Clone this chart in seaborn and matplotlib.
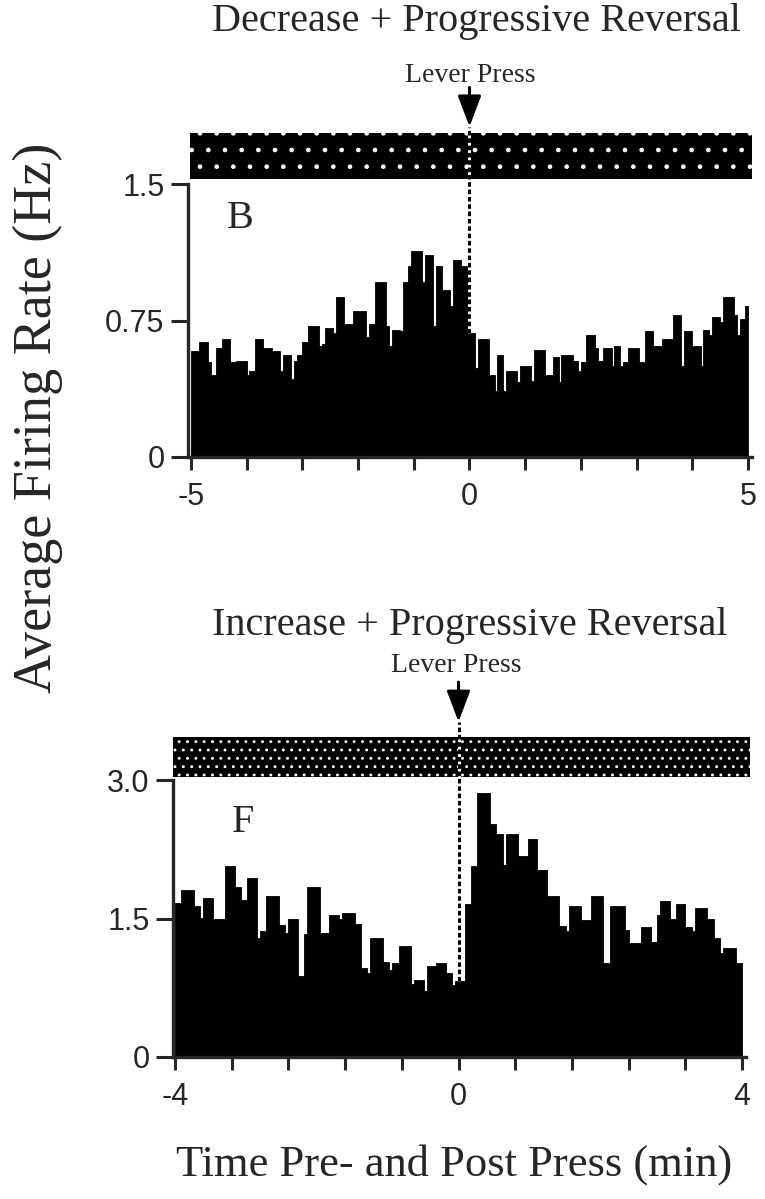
""" Peri-event firing rate histograms around the lever press."""
import numpy as np
import pandas as pd
import seaborn as sns
import matplotlib.pyplot as plt

# Panel B: average firing rate (Hz), 0.05 min bins from -5 to 5 min
rate_b = [
    0.58, 0.58, 0.58, 0.63, 0.63, 0.63, 0.52, 0.45, 0.45, 0.60,
    0.60, 0.65, 0.65, 0.65, 0.52, 0.52, 0.53, 0.53, 0.53, 0.53,
    0.45, 0.47, 0.47, 0.65, 0.65, 0.65, 0.60, 0.60, 0.60, 0.58,
    0.58, 0.58, 0.47, 0.56, 0.56, 0.56, 0.43, 0.53, 0.56, 0.56,
    0.63, 0.63, 0.72, 0.72, 0.72, 0.72, 0.61, 0.62, 0.71, 0.71,
    0.71, 0.68, 0.88, 0.88, 0.88, 0.73, 0.73, 0.73, 0.80, 0.80,
    0.80, 0.80, 0.80, 0.66, 0.73, 0.73, 0.96, 0.96, 0.96, 0.96,
    0.72, 0.61, 0.70, 0.70, 0.70, 0.69, 0.96, 0.96, 1.05, 1.13,
    1.13, 1.13, 1.13, 0.96, 1.11, 1.11, 1.11, 0.72, 1.05, 1.05,
    0.92, 0.92, 0.92, 0.83, 1.08, 1.08, 1.08, 1.05, 1.05, 1.02,
    0.68, 0.68, 0.49, 0.65, 0.65, 0.65, 0.65, 0.45, 0.45, 0.36,
    0.56, 0.56, 0.36, 0.47, 0.47, 0.47, 0.47, 0.41, 0.50, 0.50,
    0.50, 0.50, 0.42, 0.59, 0.59, 0.59, 0.59, 0.45, 0.45, 0.45,
    0.55, 0.55, 0.41, 0.56, 0.56, 0.56, 0.56, 0.53, 0.53, 0.47,
    0.52, 0.52, 0.67, 0.67, 0.67, 0.60, 0.53, 0.53, 0.60, 0.60,
    0.60, 0.50, 0.61, 0.61, 0.50, 0.52, 0.52, 0.60, 0.60, 0.60,
    0.60, 0.52, 0.52, 0.69, 0.69, 0.69, 0.61, 0.61, 0.61, 0.65,
    0.65, 0.65, 0.65, 0.78, 0.78, 0.78, 0.50, 0.69, 0.69, 0.69,
    0.61, 0.61, 0.61, 0.50, 0.70, 0.70, 0.67, 0.77, 0.77, 0.77,
    0.74, 0.88, 0.88, 0.88, 0.88, 0.78, 0.67, 0.76, 0.76, 0.83,
]

# Panel F: average firing rate (Hz), 180 bins from -4 to 4 min
rate_f = [
    1.67, 1.67, 1.81, 1.81, 1.81, 1.81, 1.64, 1.64, 1.51, 1.72,
    1.72, 1.72, 1.49, 1.49, 1.49, 1.49, 2.07, 2.07, 2.07, 1.84,
    1.84, 1.70, 1.70, 1.94, 1.94, 1.94, 1.29, 1.36, 1.36, 1.74,
    1.74, 1.74, 1.74, 1.43, 1.43, 1.34, 1.49, 1.49, 1.49, 0.88,
    0.88, 1.33, 1.84, 1.84, 1.84, 1.84, 1.34, 1.34, 1.34, 1.54,
    1.54, 1.54, 1.49, 1.56, 1.56, 1.56, 1.56, 1.44, 1.44, 0.96,
    0.96, 0.91, 1.29, 1.29, 1.29, 1.29, 1.03, 1.03, 0.94, 1.02,
    1.02, 1.20, 1.20, 1.20, 1.20, 0.79, 0.83, 0.83, 0.83, 0.72,
    0.99, 0.99, 0.99, 1.02, 1.02, 1.02, 0.91, 0.91, 0.78, 0.82,
    0.82, 0.82, 1.66, 1.66, 2.07, 2.07, 2.86, 2.86, 2.86, 2.86,
    2.52, 2.52, 2.42, 2.42, 2.08, 2.42, 2.42, 2.42, 2.42, 2.18,
    2.18, 2.18, 2.36, 2.36, 2.36, 2.03, 2.03, 2.03, 1.74, 1.74,
    1.74, 1.74, 1.42, 1.42, 1.36, 1.64, 1.64, 1.64, 1.64, 1.48,
    1.48, 1.48, 1.74, 1.74, 1.74, 1.74, 1.02, 1.02, 1.64, 1.64,
    1.64, 1.64, 1.64, 1.38, 1.23, 1.23, 1.23, 1.23, 1.41, 1.41,
    1.41, 1.25, 1.25, 1.54, 1.69, 1.69, 1.69, 1.50, 1.50, 1.66,
    1.66, 1.66, 1.41, 1.41, 1.36, 1.61, 1.61, 1.61, 1.61, 1.50,
    1.50, 1.29, 1.29, 1.13, 1.18, 1.18, 1.18, 1.18, 1.02, 1.02,
]

range_b = (-5, 5)
range_f = (-4, 4)
yticks_b = [0, 0.75, 1.5]
ylabels_b = ['0', '0.75', '1.5']
yticks_f = [0, 1.5, 3.0]
ylabels_f = ['0', '1.5', '3.0']
xlabels_b = ['-5', '0', '5']
xlabels_f = ['-4', '0', '4']
titles = ['Decrease + Progressive Reversal', 'Increase + Progressive Reversal']
letters = ['B', 'F']

W, H = 765, 1199
SERIF = ['Liberation Serif', 'DejaVu Serif']
SANS = ['Liberation Sans', 'DejaVu Sans']


def box(left, top, right, bottom):
    """ Pixel box -> figure fraction rect."""
    return [left / W, 1 - bottom / H, (right - left) / W, (bottom - top) / H]


def fpos(x, y):
    return x / W, 1 - y / H


def draw_panel(fig, rate, xr, xlim, hist_box, raster_box, raster_hatch,
               yticks, ylabels, xlabels, letter, letter_xy, arrow_y):
    """ Draw raster band + histogram for one cell."""
    ras = fig.add_axes(box(*raster_box))
    ras.fill_between([0, 1], 0, 1, facecolor='black', edgecolor='white',
                     hatch=raster_hatch, linewidth=0)
    ras.set_xlim(0, 1)
    ras.set_ylim(0, 1)
    ras.axis('off')

    ax = fig.add_axes(box(*hist_box))
    ax.patch.set_alpha(0)
    nbins = len(rate)
    width = (xr[1] - xr[0]) / nbins
    df = pd.DataFrame({'t': xr[0] + width * (np.arange(nbins) + 0.5),
                       'rate': rate})
    sns.histplot(data=df, x='t', weights='rate', bins=nbins, binrange=xr,
                 element='step', fill=True, color='black', alpha=1,
                 linewidth=0.6, edgecolor='black', ax=ax)
    ax.set_xlim(*xlim)
    ax.set_ylim(yticks[0], yticks[-1])
    ax.set_ylabel('')
    ax.set_xlabel('')
    ax.set_yticks(yticks)
    ax.set_yticklabels(ylabels)
    ticks = np.linspace(xr[0], xr[1], 11)
    ax.set_xticks(ticks)
    lab = [''] * 11
    lab[0], lab[5], lab[10] = xlabels
    ax.set_xticklabels(lab)
    for s in ['top', 'right']:
        ax.spines[s].set_visible(False)
    for s in ['left', 'bottom']:
        ax.spines[s].set_linewidth(2.4)
    ax.tick_params(direction='out', width=2.2, labelsize=22)
    ax.tick_params(axis='y', length=12, pad=5)
    ax.tick_params(axis='x', length=9, pad=9)
    for t in ax.get_xticklabels() + ax.get_yticklabels():
        t.set_family(SANS)

    # lever press marker: arrow, then dashed line down to the bar at time 0
    h0 = rate[int(round((0 - xr[0]) / width))]
    tail, tip = arrow_y
    ax.annotate('', xy=(0, tip), xytext=(0, tail), xycoords='data',
                arrowprops=dict(arrowstyle='-|>,head_length=0.95,head_width=0.36',
                                mutation_scale=20, lw=2.2, color='black',
                                shrinkA=0, shrinkB=0),
                annotation_clip=False)
    ax.plot([0, 0], [h0, tip], color='white', lw=2.2, clip_on=False,
            solid_capstyle='butt', zorder=5)
    ax.plot([0, 0], [h0, tip], color='black', lw=2.2, clip_on=False,
            linestyle=(0, (1.5, 0.9)), zorder=6)
    ax.text(*letter_xy, letter, transform=ax.transAxes, fontsize=29,
            family=SERIF, ha='center', va='center')
    return ax


sns.set_style('ticks')
plt.rcParams['font.family'] = SERIF
plt.rcParams['hatch.linewidth'] = 0.9

fig = plt.figure(figsize=(W / 100, H / 100), dpi=100)

# top cell
draw_panel(fig, rate_b, range_b, (-5.054, 5.072), (188, 184, 752, 457),
           (190, 133, 752, 179), '.', yticks_b, ylabels_b, xlabels_b,
           letters[0], (0.093, 0.875), (2.03, 1.815))
# bottom cell
draw_panel(fig, rate_f, range_f, (-4.028, 4.056), (173, 780, 746, 1057),
           (173, 737, 750, 777), '..', yticks_f, ylabels_f, xlabels_f,
           letters[1], (0.122, 0.845), (4.06, 3.63))

fig.text(*fpos(476, 22), titles[0], fontsize=29, ha='center', va='center')
fig.text(*fpos(470, 625), titles[1], fontsize=29, ha='center', va='center')
fig.text(*fpos(470, 76), 'Lever Press', fontsize=20, ha='center', va='center')
fig.text(*fpos(456, 665), 'Lever Press', fontsize=20, ha='center',
         va='center')
fig.text(*fpos(38, 418), 'Average Firing Rate (Hz)', fontsize=39,
         rotation=90, ha='center', va='center')
fig.text(*fpos(454, 1165), 'Time Pre- and Post Press (min)', fontsize=32,
         ha='center', va='center')

fig.savefig('out.png', dpi=100)
